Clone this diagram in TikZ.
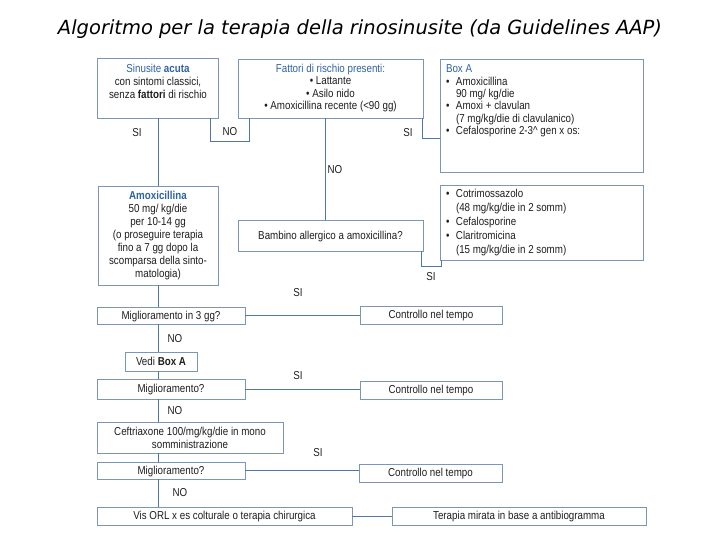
\documentclass[tikz,border=0pt]{standalone}
\usepackage{fontspec}
\setmainfont{Liberation Sans}[FakeStretch=0.85]
\newfontfamily\titlefont{DejaVu Sans}
\usetikzlibrary{calc}
\definecolor{boxline}{HTML}{7C96B8}
\definecolor{linkcol}{HTML}{4F76A8}
\definecolor{head}{HTML}{2F62A3}
\definecolor{txt}{HTML}{1E1E1E}
\newcommand\bul{\makebox[10pt][l]{•}}
\newcommand\ind{\hspace*{10pt}}
\newcommand\mytop[3]{\parbox[c][#2][t]{#1}{#3}}
\tikzset{
  box/.style={draw=boxline, line width=0.8pt, fill=white, inner sep=0pt, text=txt,
    font=\fontsize{11.5}{12.8}\selectfont},
  onebox/.style={box, text height=8.2pt, text depth=1pt},
  link/.style={draw=linkcol, line width=1pt},
  lbl/.style={text=txt, font=\fontsize{11.5}{12.8}\selectfont, inner sep=0pt},
}
\begin{document}
\begin{tikzpicture}[x=1pt,y=-1pt]
\useasboundingbox (0,0) rectangle (720,540);
% title
\node[inner sep=0pt] (title) at (360,29) {\resizebox{604pt}{!}{\titlefont\itshape Algoritmo per la terapia della rinosinusite (da Guidelines AAP)}};
% top row
\node[box] (box1) at (158,88) {\mytop{121pt}{60pt}{\fontsize{11.5}{12.9}\selectfont\centering\vspace*{6pt}\textcolor{head}{Sinusite \textbf{acuta}}\\con sintomi classici,\\senza \textbf{fattori} di rischio\par}};
\node[box] (fatt) at (330.5,88.5) {\mytop{185pt}{59pt}{\fontsize{11.5}{12.4}\selectfont\centering\vspace*{5pt}\textcolor{head}{Fattori di rischio presenti:}\\• Lattante\\• Asilo nido\\• Amoxicillina recente (<90 gg)\par}};
\node[box] (boxA) at (541.5,115.5) {\mytop{203pt}{113pt}{\fontsize{11.5}{12.3}\selectfont\raggedright\leftskip=6pt\parindent=0pt\vspace*{6pt}\textcolor{head}{Box A}\\\bul Amoxicillina\\\ind 90 mg/ kg/die\\\bul Amoxi + clavulan\\\ind (7 mg/kg/die di clavulanico)\\\bul Cefalosporine 2-3\^{} gen x os:\par}};
% second row
\node[box] (amox) at (158,235.5) {\mytop{120pt}{99pt}{\fontsize{11.5}{13}\selectfont\centering\vspace*{5pt}\textcolor{head}{\textbf{Amoxicillina}}\\50 mg/ kg/die\\per 10-14 gg\\(o proseguire terapia\\fino a 7 gg dopo la\\scomparsa della sinto-\\matologia)\par}};
\node[onebox, minimum width=185pt, minimum height=31pt] (bamb) at (330.5,235.5) {Bambino allergico a amoxicillina?};
\node[box] (boxB) at (541.5,222.5) {\mytop{203pt}{75pt}{\fontsize{11.5}{14}\selectfont\raggedright\leftskip=6pt\parindent=0pt\vspace*{4pt}\bul Cotrimossazolo\\\ind (48 mg/kg/die in 2 somm)\\\bul Cefalosporine\\\bul Claritromicina\\\ind (15 mg/kg/die in 2 somm)\par}};
% lower chain
\node[onebox, minimum width=148pt, minimum height=17pt] (migl1) at (171,315.5) {Miglioramento in 3 gg?};
\node[onebox, minimum width=142pt, minimum height=18pt] (contr1) at (431,315) {Controllo nel tempo};
\node[onebox, minimum width=72pt, minimum height=19pt] (vedi) at (161,361.5) {Vedi \textbf{Box A}};
\node[onebox, minimum width=148pt, minimum height=20pt] (migl2) at (171,389) {Miglioramento?};
\node[onebox, minimum width=142pt, minimum height=18pt] (contr2) at (431,390) {Controllo nel tempo};
\node[box, minimum width=186pt, minimum height=31pt, align=center] (ceftr) at (190,437.5) {Ceftriaxone 100/mg/kg/die in mono\\somministrazione};
\node[onebox, minimum width=148pt, minimum height=17pt] (migl3) at (171,470.5) {Miglioramento?};
\node[onebox, minimum width=143pt, minimum height=18pt] (contr3) at (430.5,473) {Controllo nel tempo};
\node[onebox, minimum width=255pt, minimum height=18pt] (visorl) at (224.5,516) {Vis ORL x es colturale o terapia chirurgica};
\node[onebox, minimum width=254pt, minimum height=18pt] (terap) at (519,516) {Terapia mirata in base a antibiogramma};
% connectors
\draw[link] (box1.south) -- (amox.north);
\draw[link] ($(box1.south east)+(-8,0)$) -- ++(0,23) -| ($(fatt.south west)+(12,0)$);
\draw[link] ($(fatt.south)+(-5,0)$) -- ($(bamb.north)+(-5,0)$);
\draw[link] ($(fatt.south east)+(-1,0)$) |- ($(boxA.north west)+(0,80)$);
\draw[link] ($(bamb.south east)+(-2,0)$) -- ++(0,15) -| ($(boxB.south west)+(2,0)$);
\draw[link] (amox.south) -- (amox.south |- migl1.north);
\draw[link] (amox.south |- migl1.south) -- (amox.south |- vedi.north);
\draw[link] (amox.south |- vedi.south) -- (amox.south |- migl2.north);
\draw[link] (amox.south |- migl2.south) -- (amox.south |- ceftr.north);
\draw[link] (amox.south |- ceftr.south) -- (amox.south |- migl3.north);
\draw[link] (amox.south |- migl3.south) -- (amox.south |- visorl.north);
\draw[link] (migl1.east) -- (migl1.east -| contr1.west);
\draw[link] (migl2.east) -- (migl2.east -| contr2.west);
\draw[link] (migl3.east) -- (migl3.east -| contr3.west);
\draw[link] (visorl.east) -- (terap.west);
% labels
\node[lbl] (l1) at (137,133) {SI};
\node[lbl] (l2) at (230,132) {NO};
\node[lbl] (l3) at (408,133) {SI};
\node[lbl] (l4) at (335,170) {NO};
\node[lbl] (l5) at (431,277) {SI};
\node[lbl] (l6) at (298,293) {SI};
\node[lbl] (l7) at (175,339) {NO};
\node[lbl] (l8) at (298,376) {SI};
\node[lbl] (l9) at (175,411) {NO};
\node[lbl] (l10) at (318,453) {SI};
\node[lbl] (l11) at (180,493) {NO};
\end{tikzpicture}
\end{document}
